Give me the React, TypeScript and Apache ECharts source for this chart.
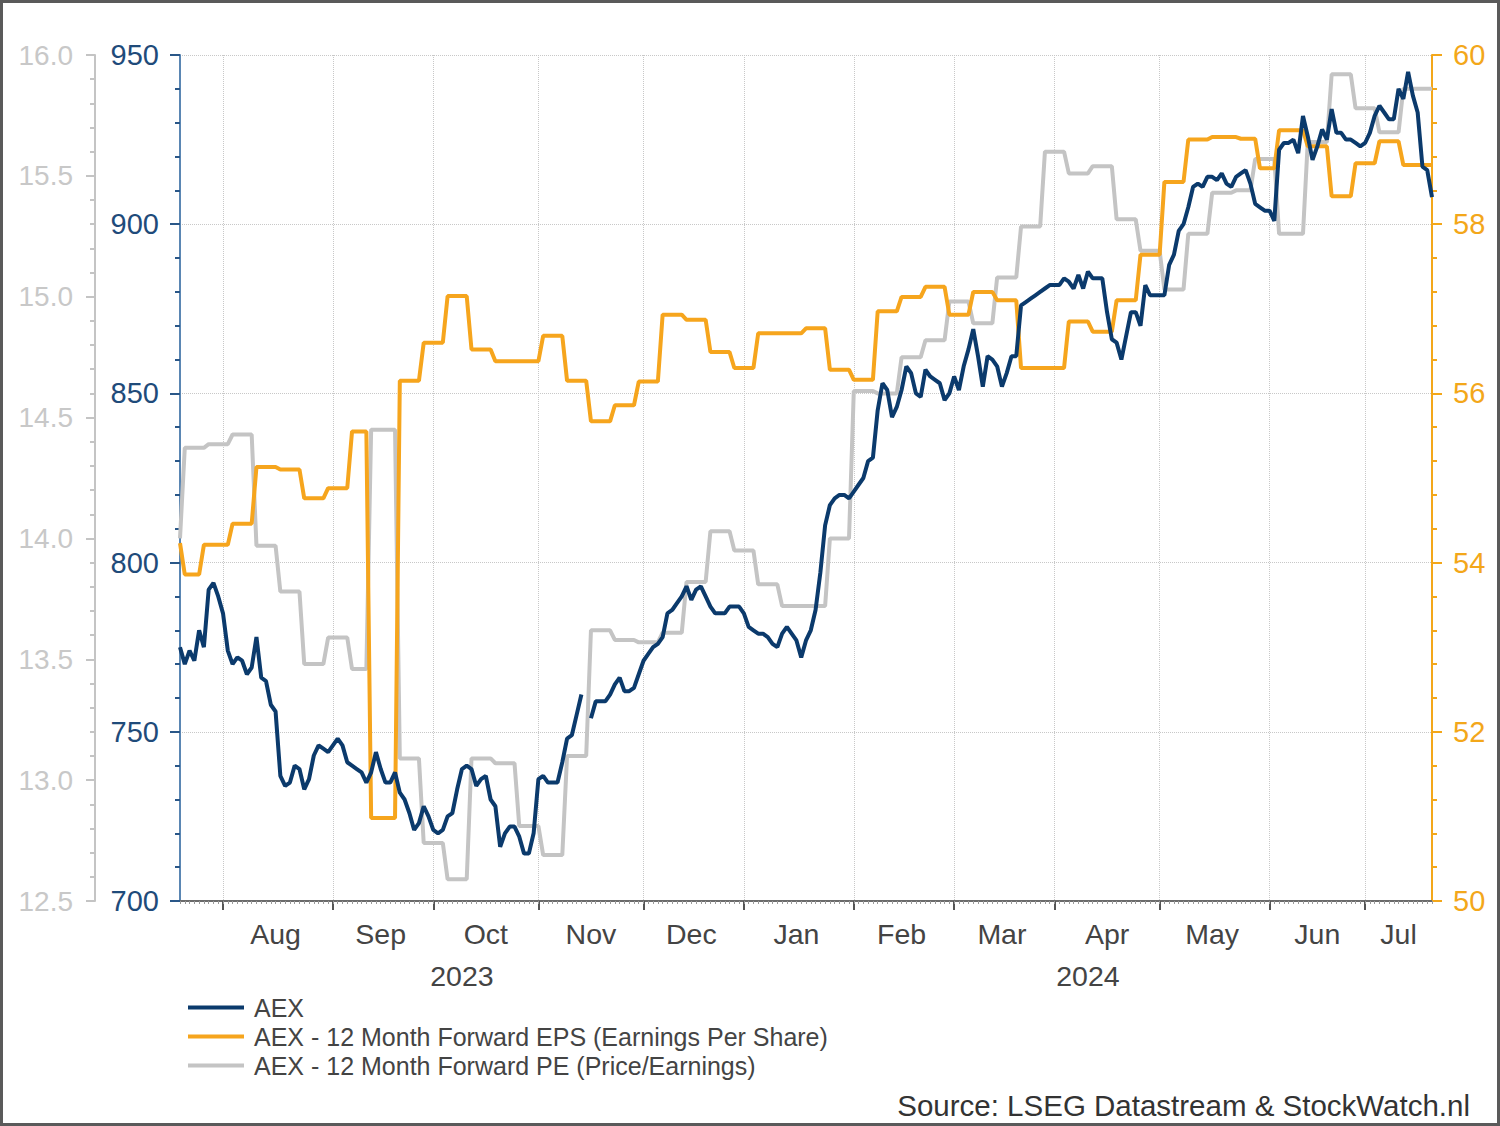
import React, { useEffect, useRef } from 'react';
import * as echarts from 'echarts';

// ---- Data ----
const START_DATE = '2023-07-19';
const END_DATE = '2024-07-19';
const MONTH_NAMES = ['Jan', 'Feb', 'Mar', 'Apr', 'May', 'Jun', 'Jul', 'Aug', 'Sep', 'Oct', 'Nov', 'Dec'];

const AEX_NAME = 'AEX';
const EPS_NAME = 'AEX - 12 Month Forward EPS (Earnings Per Share)';
const PE_NAME = 'AEX - 12 Month Forward PE (Price/Earnings)';
const SOURCE_TEXT = 'Source: LSEG Datastream & StockWatch.nl';

// AEX index, one value per weekday (trading calendar)
const AEX: (number | null)[] = [
  775, 770, 774, 771, 780, 775, 792, 794, 790, 785,
  774, 770, 772, 771, 767, 769, 778, 766, 765, 758,
  756, 737, 734, 735, 740, 739, 733, 736, 743, 746,
  745, 744, 746, 748, 746, 741, 740, 739, 738, 735,
  738, 744, 739, 735, 735, 738, 732, 730, 726, 721,
  723, 728, 725, 721, 720, 721, 725, 726, 733, 739,
  740, 739, 734, 736, 737, 730, 728, 716, 720, 722,
  722, 719, 714, 714, 720, 736, 737, 735, 735, 735,
  741, 748, 749, 755, 761, null, 754, 759, 759, 759,
  761, 764, 766, 762, 762, 763, 767, 771, 773, 775,
  776, 778, 785, 786, 788, 790, 793, 789, 792, 793,
  790, 787, 785, 785, 785, 787, 787, 787, 785, 781,
  780, 779, 779, 778, 776, 775, 779, 781, 779, 777,
  772, 777, 780, 786, 797, 811, 817, 819, 820, 820,
  819, 821, 823, 825, 830, 831, 845, 853, 851, 843,
  846, 851, 858, 856, 850, 849, 857, 855, 854, 853,
  848, 850, 855, 851, 858, 863, 869, 861, 852, 861,
  860, 858, 852, 856, 861, 861, 876, 877, 878, 879,
  880, 881, 882, 882, 882, 884, 883, 881, 885, 881,
  886, 884, 884, 884, 874, 866, 865, 860, 867, 874,
  874, 870, 882, 879, 879, 879, 879, 888, 891, 898,
  900, 905, 911, 912, 911, 914, 914, 913, 915, 912,
  911, 914, 915, 916, 912, 906, 905, 904, 904, 901,
  922, 924, 924, 925, 921, 932, 926, 919, 923, 928,
  925, 934, 927, 927, 925, 925, 924, 923, 924, 927,
  932, 935, 933, 931, 931, 940, 937, 945, 938, 933,
  917, 916, 908,
];

// 12M forward EPS: weekday index where a new level starts, and the level
const EPS_CHANGE_DAY = [
  0, 1, 5, 11, 16, 21, 26, 31, 36, 40, 46, 51, 56, 61, 66, 76, 81, 86, 91, 96,
  101, 106, 111, 116, 121, 131, 136, 141, 146, 151, 156, 161, 166, 171, 176, 186,
  191, 196, 201, 206, 211, 216, 222, 226, 230, 236, 241, 246, 251, 256,
];
const EPS_LEVEL = [
  54.23, 53.86, 54.21, 54.46, 55.13, 55.10, 54.76, 54.88, 55.55, 50.98, 56.15, 56.60,
  57.15, 56.52, 56.38, 56.68, 56.15, 55.67, 55.86, 56.14, 56.93, 56.87, 56.49, 56.30,
  56.71, 56.77, 56.28, 56.16, 56.97, 57.14, 57.26, 56.93, 57.20, 57.10, 56.30, 56.85,
  56.73, 57.10, 57.64, 58.50, 59.00, 59.03, 59.01, 58.66, 59.11, 58.92, 58.33, 58.72,
  58.98, 58.70,
];

// 12M forward PE: weekday index where a new level starts, and the level
const PE_CHANGE_DAY = [
  0, 1, 6, 11, 16, 21, 26, 31, 36, 40, 46, 51, 56, 61, 66, 71, 76, 81, 86, 91,
  96, 101, 106, 111, 116, 121, 126, 136, 141, 146, 151, 156, 161, 166, 171, 176,
  181, 186, 191, 196, 201, 206, 211, 216, 221, 225, 230, 236, 241, 246, 251, 256,
];
const PE_LEVEL = [
  14.00, 14.375, 14.39, 14.43, 13.97, 13.78, 13.48, 13.59, 13.46, 14.45, 13.09, 12.74,
  12.59, 13.09, 13.07, 12.81, 12.69, 13.10, 13.62, 13.58, 13.57, 13.61, 13.82, 14.03,
  13.95, 13.81, 13.72, 14.00, 14.61, 14.60, 14.75, 14.82, 14.98, 14.89, 15.08, 15.29,
  15.60, 15.51, 15.54, 15.32, 15.19, 15.03, 15.26, 15.43, 15.44, 15.57, 15.26, 15.64,
  15.92, 15.78, 15.68, 15.86,
];

// ---- helpers ----
function weekdays(start: string, end: string): string[] {
  const out: string[] = [];
  let d = new Date(start + 'T00:00:00Z');
  const e = new Date(end + 'T00:00:00Z');
  while (d.getTime() <= e.getTime()) {
    const wd = d.getUTCDay();
    if (wd !== 0 && wd !== 6) out.push(d.toISOString().slice(0, 10));
    d = new Date(d.getTime() + 86400000);
  }
  return out;
}

function stepSeries(n: number, changeDay: number[], level: number[]): (number | null)[] {
  const out: (number | null)[] = [];
  for (let i = 0; i < n; i++) {
    let v: number | null = null;
    for (let k = 0; k < changeDay.length; k++) if (changeDay[k] <= i) v = level[k];
    out.push(v);
  }
  return out;
}

function groupCenters(keys: string[], minLen: number): Set<number> {
  const s = new Set<number>();
  let first = 0;
  for (let i = 1; i <= keys.length; i++) {
    if (i === keys.length || keys[i] !== keys[first]) {
      const last = i - 1;
      if (last - first + 1 >= minLen) s.add(Math.round((first + last) / 2));
      first = i;
    }
  }
  return s;
}

const FONT = "'Liberation Sans', Arial, Helvetica, sans-serif";

export default function App() {
  const ref = useRef<HTMLDivElement>(null);

  useEffect(() => {
    if (!ref.current) return;
    const chart = echarts.init(ref.current, undefined, { renderer: 'svg' });

    const days = weekdays(START_DATE, END_DATE);
    const n = days.length;
    const monthKeys = days.map((d) => d.slice(0, 7));
    const yearKeys = days.map((d) => d.slice(0, 4));
    const isMonthStart = days.map((_, i) => i > 0 && monthKeys[i] !== monthKeys[i - 1]);
    const monthLabelIdx = groupCenters(monthKeys, 10);
    const yearLabelIdx = groupCenters(yearKeys, 10);

    const epsDaily = stepSeries(n, EPS_CHANGE_DAY, EPS_LEVEL);
    const peDaily = stepSeries(n, PE_CHANGE_DAY, PE_LEVEL);
    const aex = AEX.slice(0, n);

    const navy = '#0b3a6c';
    const orange = '#f6a51d';
    const grey = '#c4c4c4';

    const option: any = {
      animation: false,
      backgroundColor: '#ffffff',
      grid: { left: 180, right: 68, top: 55, bottom: 225, containLabel: false },
      legend: {
        orient: 'vertical',
        left: 188,
        top: 995,
        padding: 0,
        icon: 'rect',
        itemWidth: 56,
        itemHeight: 4,
        itemGap: 4,
        selectedMode: false,
        textStyle: { fontSize: 25, color: '#444', fontFamily: FONT, padding: [0, 0, 0, 5] },
        data: [AEX_NAME, EPS_NAME, PE_NAME],
      },
      graphic: [
        {
          type: 'rect',
          shape: { x: 1.5, y: 1.5, width: 1497, height: 1123 },
          style: { fill: 'none', stroke: '#5a5a5a', lineWidth: 3 },
          silent: true,
        },
        {
          type: 'text',
          right: 30,
          top: 1090,
          style: { text: SOURCE_TEXT, fontSize: 29.5, fill: '#333', font: `29.5px ${FONT}` },
        },
      ],
      xAxis: [
        {
          type: 'category',
          data: days,
          boundaryGap: false,
          position: 'bottom',
          axisLine: { show: true, onZero: false, lineStyle: { color: '#6b6b6b', width: 2 } },
          axisTick: { show: true, interval: (i: number) => isMonthStart[i], length: 9, lineStyle: { color: '#555', width: 2 } },
          axisLabel: {
            show: true,
            interval: (i: number) => monthLabelIdx.has(i),
            formatter: (v: string) => MONTH_NAMES[parseInt(v.slice(5, 7), 10) - 1],
            fontSize: 28.5,
            color: '#444',
            margin: 18,
            fontFamily: FONT,
          },
          splitLine: {
            show: true,
            interval: (i: number) => isMonthStart[i],
            lineStyle: { color: '#c8c8c8', type: 'dotted', width: 1 },
          },
        },
        {
          type: 'category',
          data: days,
          boundaryGap: false,
          position: 'bottom',
          axisLine: { show: false },
          axisTick: { show: true, interval: 0, length: 3, lineStyle: { color: '#999', width: 1 } },
          axisLabel: { show: false },
          splitLine: { show: false },
        },
        {
          type: 'category',
          data: days,
          boundaryGap: false,
          position: 'bottom',
          axisLine: { show: false },
          axisTick: { show: false },
          axisLabel: {
            show: true,
            interval: (i: number) => yearLabelIdx.has(i),
            formatter: (v: string) => v.slice(0, 4),
            fontSize: 28.5,
            color: '#444',
            margin: 60,
            fontFamily: FONT,
          },
          splitLine: { show: false },
        },
      ],
      yAxis: [
        {
          type: 'value',
          position: 'left',
          min: 700,
          max: 950,
          interval: 50,
          axisLine: { show: true, lineStyle: { color: '#5a86b3', width: 2 } },
          axisTick: { show: true, length: 10, lineStyle: { color: '#2a5788', width: 2 } },
          minorTick: { show: true, splitNumber: 5, length: 5, lineStyle: { color: '#2a5788', width: 2 } },
          axisLabel: { fontSize: 29, color: '#1f4b7a', margin: 21, fontFamily: FONT, padding: [4, 0, 0, 0] },
          splitLine: { show: true, lineStyle: { color: '#c8c8c8', type: 'dotted', width: 1 } },
        },
        {
          type: 'value',
          position: 'left',
          offset: 85,
          min: 12.5,
          max: 16,
          interval: 0.5,
          axisLine: { show: true, lineStyle: { color: '#c4c4c4', width: 2 } },
          axisTick: { show: true, length: 9, lineStyle: { color: '#c4c4c4', width: 2 } },
          minorTick: { show: true, splitNumber: 5, length: 5, lineStyle: { color: '#c4c4c4', width: 2 } },
          axisLabel: {
            fontSize: 28,
            color: '#c8c8c8',
            margin: 22,
            fontFamily: FONT,
            padding: [4, 0, 0, 0],
            formatter: (v: number) => v.toFixed(1),
          },
          splitLine: { show: false },
        },
        {
          type: 'value',
          position: 'right',
          min: 50,
          max: 60,
          interval: 2,
          axisLine: { show: true, lineStyle: { color: '#f3a71a', width: 2 } },
          axisTick: { show: true, length: 10, lineStyle: { color: '#f3a71a', width: 2 } },
          minorTick: { show: true, splitNumber: 5, length: 5, lineStyle: { color: '#f3a71a', width: 2 } },
          axisLabel: { fontSize: 29, color: '#f3a71a', margin: 21, fontFamily: FONT, padding: [4, 0, 0, 0] },
          splitLine: { show: false },
        },
      ],
      series: [
        {
          name: PE_NAME,
          type: 'line',
          xAxisIndex: 0,
          yAxisIndex: 1,
          data: peDaily,
          symbol: 'none',
          showSymbol: false,
          lineStyle: { color: grey, width: 4 },
          itemStyle: { color: grey },
          emphasis: { disabled: true },
        },
        {
          name: EPS_NAME,
          type: 'line',
          xAxisIndex: 0,
          yAxisIndex: 2,
          data: epsDaily,
          symbol: 'none',
          showSymbol: false,
          lineStyle: { color: orange, width: 4 },
          itemStyle: { color: orange },
          emphasis: { disabled: true },
        },
        {
          name: AEX_NAME,
          type: 'line',
          xAxisIndex: 0,
          yAxisIndex: 0,
          data: aex,
          symbol: 'none',
          showSymbol: false,
          connectNulls: false,
          lineStyle: { color: navy, width: 4 },
          itemStyle: { color: navy },
          emphasis: { disabled: true },
        },
      ],
    };

    chart.setOption(option);
    return () => chart.dispose();
  }, []);

  return (
    <div
      ref={ref}
      style={{ position: 'absolute', left: 0, top: 0, width: 1500, height: 1126, background: '#fff' }}
    />
  );
}
